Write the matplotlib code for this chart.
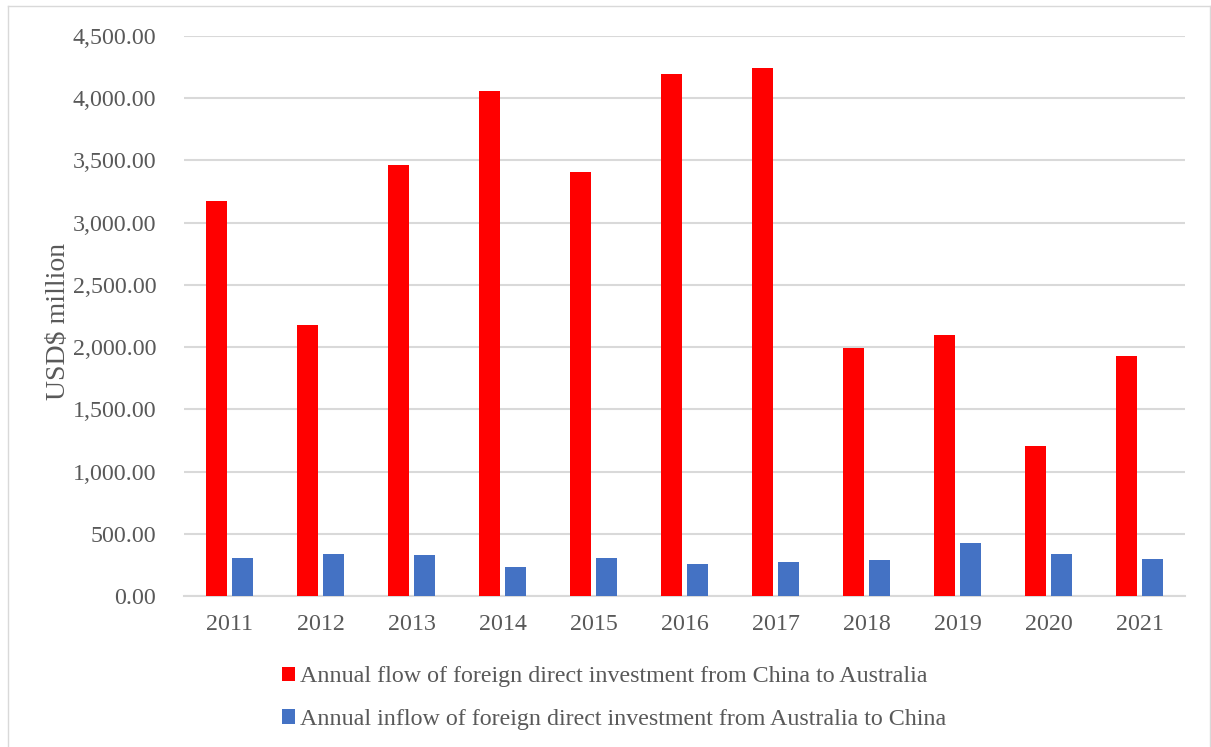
import matplotlib
matplotlib.use("Agg")
import matplotlib.pyplot as plt
import numpy as np
from matplotlib.lines import Line2D
from matplotlib.ticker import FuncFormatter

# years on the x axis
years = ['2011', '2012', '2013', '2014', '2015', '2016',
         '2017', '2018', '2019', '2020', '2021']

# China -> Australia FDI (USD million)
china_to_aus = [3177, 2175, 3463, 4056, 3405, 4195, 4243, 1995, 2095, 1205, 1929]

# Australia -> China FDI (USD million)
aus_to_china = [308, 338, 327, 235, 305, 260, 276, 287, 430, 341, 300]

label_red = 'Annual flow of foreign direct investment from China to Australia'
label_blue = 'Annual inflow of foreign direct investment from Australia to China'

plt.rcParams['font.family'] = ['Liberation Serif', 'DejaVu Serif']

fig = plt.figure(figsize=(12.11, 7.47), dpi=100)
ax = fig.add_axes([0.152, 0.2021, 0.8265, 0.7497])

x = np.arange(len(years))
w = 0.23
ax.bar(x - 0.14, china_to_aus, w, color='#FF0000', label=label_red, zorder=3)
ax.bar(x + 0.14, aus_to_china, w, color='#4472C4', label=label_blue, zorder=3)

ax.set_xlim(-0.5, len(years) - 0.5)
ax.set_ylim(0, 4500)
ax.set_yticks(np.arange(0, 4501, 500))
ax.yaxis.set_major_formatter(FuncFormatter(lambda v, p: '{:,.2f}'.format(v)))
ax.set_xticks(x)
ax.set_xticklabels(years)

ax.grid(axis='y', color='#D9D9D9', linewidth=1.5, zorder=0)
for s in ['top', 'right', 'left']:
    ax.spines[s].set_visible(False)
ax.spines['bottom'].set_color('#D9D9D9')
ax.spines['bottom'].set_linewidth(1.5)
ax.tick_params(axis='both', length=0, labelsize=17.3, colors='#595959')
ax.tick_params(axis='y', pad=20)
ax.tick_params(axis='x', pad=13)

ax.set_ylabel('USD$ million', fontsize=20, color='#595959')
ax.yaxis.set_label_coords(-0.113, 0.49)

leg = fig.legend(loc='center', bbox_to_anchor=(0.507, 0.0655), ncol=1,
                 frameon=False, fontsize=17.3, handlelength=0.54, handleheight=0.54,
                 handletextpad=0.2, labelspacing=0.9, borderpad=0)
for t in leg.get_texts():
    t.set_color('#595959')

# light border around the chart (left, top, right)
border = dict(color='#D9D9D9', linewidth=1, transform=fig.transFigure)
fig.add_artist(Line2D([0.0062, 0.0062], [0.0, 0.992], **border))
fig.add_artist(Line2D([0.0062, 0.9988], [0.992, 0.992], **border))
fig.add_artist(Line2D([0.9988, 0.9988], [0.0, 0.992], **border))

fig.savefig('out.png', dpi=100)
